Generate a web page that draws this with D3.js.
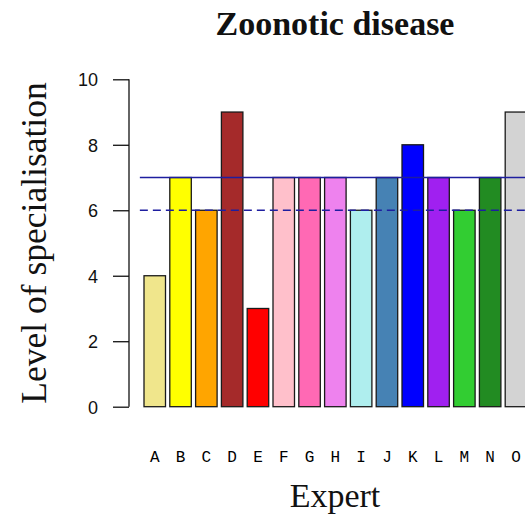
<!DOCTYPE html>
<html>
<head>
<meta charset="utf-8">
<script src="https://cdn.jsdelivr.net/npm/d3@7"></script>
<style>
  html, body { margin: 0; padding: 0; background: #fff; }
  svg { display: block; }
  .tick-label { font-family: "Liberation Sans", Arial, sans-serif; font-size: 18px; fill: #111; }
  .cat-label { font-family: "Liberation Mono", "Courier New", monospace; font-size: 16px; fill: #000; }
  .serif { font-family: "Liberation Serif", "Times New Roman", serif; fill: #111; }
</style>
</head>
<body>
<div id="chart"></div>
<script>
// data
const experts = ['A','B','C','D','E','F','G','H','I','J','K','L','M','N','O'];
const levels  = [4, 7, 6, 9, 3, 7, 7, 7, 6, 7, 8, 7, 6, 7, 9];
const colours = ['#f0e68c','#ffff00','#ffa500','#a52a2a','#ff0000','#ffc0cb','#ff69b4',
                 '#ee82ee','#afeeee','#4682b4','#0000ff','#a020f0','#32cd32','#228b22','#d3d3d3'];
const yTicks  = [0, 2, 4, 6, 8, 10];
const refLines = [{ value: 7, dash: null }, { value: 6, dash: '8,5' }];

const chart = { width: 525, height: 524 };

let svg = d3.select('#chart')
    .append('svg')
    .attr('width', chart.width)
    .attr('height', chart.height);

// band of 15 bars, R style space = 0.2 of bar width
let step = 25.8;
let x0 = 144 - step / 12;
let xScale = d3.scaleBand()
    .domain(experts)
    .range([x0, x0 + step * experts.length])
    .paddingInner(1 / 6)
    .paddingOuter(1 / 12);

let yScale = d3.scaleLinear()
    .domain([0, 10])
    .range([406.7, 79.3]);

// bars
svg.append('g')
    .selectAll('rect')
    .data(experts)
    .join('rect')
        .attr('x', d => xScale(d))
        .attr('y', (d, i) => yScale(levels[i]))
        .attr('width', xScale.bandwidth())
        .attr('height', (d, i) => yScale(0) - yScale(levels[i]))
        .style('fill', (d, i) => colours[i])
        .style('stroke', '#1a1a1a')
        .style('stroke-width', 1.3);

// reference lines, drawn over the bars
svg.append('g')
    .selectAll('line')
    .data(refLines)
    .join('line')
        .attr('x1', x0 - 2)
        .attr('x2', chart.width)
        .attr('y1', d => yScale(d.value))
        .attr('y2', d => yScale(d.value))
        .style('stroke', '#1e1ea0')
        .style('stroke-width', 1.3)
        .style('stroke-dasharray', d => d.dash);

// y axis
let yAxis = d3.axisLeft(yScale)
    .tickValues(yTicks)
    .tickSize(16)
    .tickPadding(15)
    .tickFormat(d3.format('d'));

let yAxisG = svg.append('g')
    .attr('transform', 'translate(129,0)')
    .call(yAxis);

yAxisG.attr('font-family', null).attr('font-size', null);
yAxisG.select('.domain')
    .attr('d', `M0,${yScale(0)}V${yScale(10)}`)
    .style('stroke', '#111')
    .style('stroke-width', 1.3);
yAxisG.selectAll('.tick line')
    .style('stroke', '#111')
    .style('stroke-width', 1.3);
yAxisG.selectAll('.tick text')
    .attr('class', 'tick-label')
    .attr('dy', '0.36em');

// category labels (no axis line)
svg.append('g')
    .selectAll('text')
    .data(experts)
    .join('text')
        .attr('class', 'cat-label')
        .attr('x', d => xScale(d) + xScale.bandwidth() / 2)
        .attr('y', 462)
        .attr('text-anchor', 'middle')
        .text(d => d);

// titles
svg.append('text')
    .attr('class', 'serif')
    .attr('x', 335)
    .attr('y', 35)
    .attr('text-anchor', 'middle')
    .style('font-size', '34px')
    .style('font-weight', 'bold')
    .text('Zoonotic disease');

svg.append('text')
    .attr('class', 'serif')
    .attr('x', 335)
    .attr('y', 507)
    .attr('text-anchor', 'middle')
    .style('font-size', '34px')
    .text('Expert');

svg.append('text')
    .attr('class', 'serif')
    .attr('transform', 'translate(46,243) rotate(-90)')
    .attr('text-anchor', 'middle')
    .style('font-size', '35.5px')
    .text('Level of specialisation');
</script>
</body>
</html>
